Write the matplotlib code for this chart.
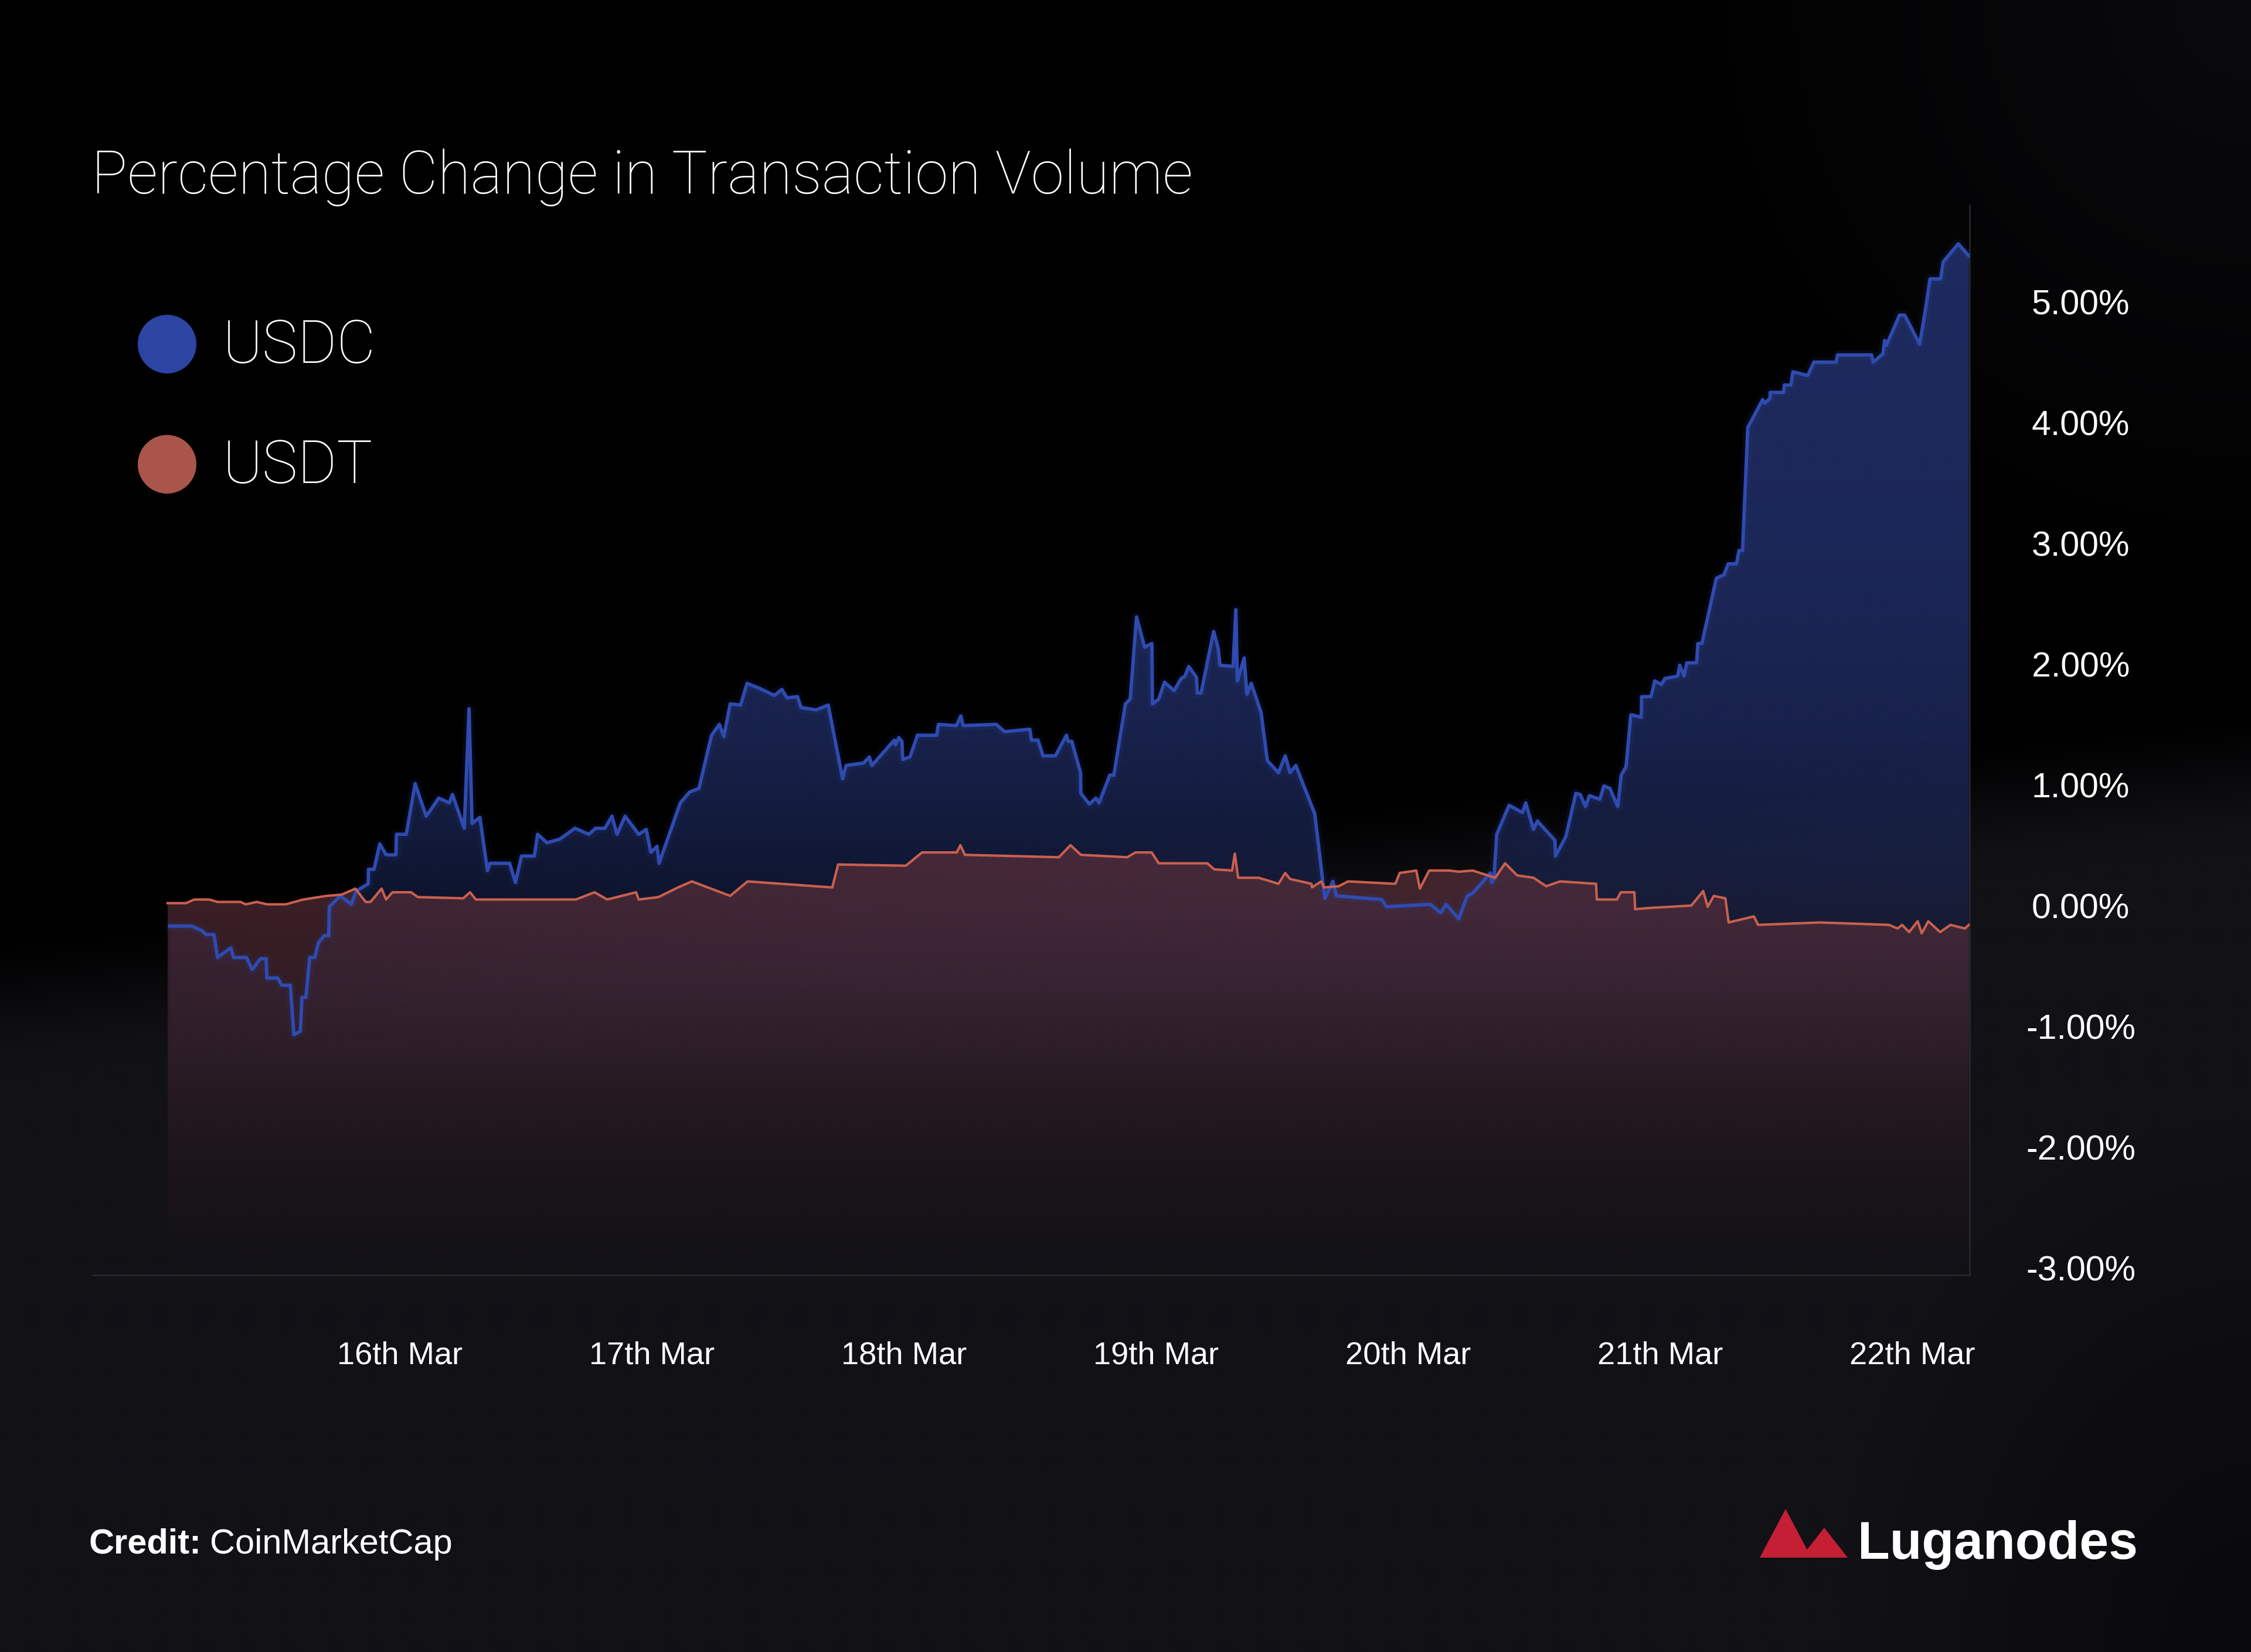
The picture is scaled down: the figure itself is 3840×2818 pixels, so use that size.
"""
Percentage change in transaction volume, USDC vs USDT (15th-22nd Mar).
Dark poster style chart with gradient area fills.
"""

import numpy as np
import matplotlib
matplotlib.use("Agg")
import matplotlib.pyplot as plt
from matplotlib import font_manager
from matplotlib.patches import Polygon, Ellipse
from matplotlib.colors import to_rgb

# ---- data: day of March (fractional) and % change ----
usdc_day = [15.088, 15.175, 15.217, 15.231, 15.263, 15.277, 15.330, 15.341, 15.392, 15.415,
            15.447, 15.470, 15.473, 15.516, 15.532, 15.566, 15.580, 15.606, 15.612, 15.628,
            15.643, 15.663, 15.677, 15.700, 15.718, 15.721, 15.764, 15.808, 15.827, 15.875,
            15.876, 15.898, 15.921, 15.946, 15.985, 15.987, 16.026, 16.061, 16.105, 16.155,
            16.197, 16.209, 16.256, 16.275, 16.287, 16.318, 16.348, 16.358, 16.436, 16.459,
            16.483, 16.534, 16.547, 16.584, 16.635, 16.695, 16.750, 16.777, 16.814, 16.842,
            16.862, 16.894, 16.948, 16.978, 16.996, 17.021, 17.029, 17.113, 17.150, 17.187,
            17.237, 17.268, 17.286, 17.311, 17.352, 17.378, 17.426, 17.486, 17.516, 17.536,
            17.578, 17.592, 17.651, 17.700, 17.757, 17.771, 17.840, 17.863, 17.873, 17.962,
            17.966, 17.980, 17.992, 17.996, 18.024, 18.054, 18.130, 18.137, 18.208, 18.226,
            18.235, 18.367, 18.399, 18.500, 18.506, 18.532, 18.552, 18.601, 18.645, 18.652,
            18.666, 18.701, 18.702, 18.736, 18.762, 18.774, 18.817, 18.833, 18.879, 18.898,
            18.923, 18.955, 18.984, 18.986, 19.011, 19.034, 19.072, 19.100, 19.115, 19.130,
            19.161, 19.164, 19.179, 19.229, 19.247, 19.254, 19.306, 19.317, 19.323, 19.350,
            19.361, 19.378, 19.417, 19.442, 19.486, 19.513, 19.532, 19.555, 19.630, 19.670,
            19.702, 19.716, 19.895, 19.915, 20.088, 20.130, 20.151, 20.201, 20.235, 20.256,
            20.327, 20.332, 20.341, 20.352, 20.401, 20.454, 20.467, 20.498, 20.513, 20.583,
            20.585, 20.626, 20.666, 20.683, 20.704, 20.720, 20.761, 20.777, 20.801, 20.832,
            20.846, 20.865, 20.884, 20.925, 20.927, 20.964, 20.979, 21.005, 21.019, 21.070,
            21.078, 21.095, 21.106, 21.145, 21.150, 21.166, 21.223, 21.254, 21.270, 21.303,
            21.313, 21.327, 21.348, 21.407, 21.415, 21.436, 21.437, 21.490, 21.493, 21.519,
            21.527, 21.586, 21.610, 21.698, 21.704, 21.839, 21.846, 21.884, 21.891, 21.898,
            21.950, 21.970, 22.030, 22.053, 22.071, 22.113, 22.123, 22.183, 22.225]
usdc_pct = [-0.17, -0.17, -0.21, -0.24, -0.24, -0.43, -0.35, -0.43, -0.43, -0.53,
            -0.44, -0.44, -0.60, -0.60, -0.66, -0.66, -1.07, -1.04, -0.76, -0.76,
            -0.43, -0.43, -0.31, -0.25, -0.25, -0.01, 0.08, 0.01, 0.12, 0.18,
            0.30, 0.30, 0.51, 0.42, 0.42, 0.59, 0.59, 1.01, 0.74, 0.89,
            0.85, 0.92, 0.64, 1.63, 0.68, 0.73, 0.29, 0.35, 0.35, 0.19,
            0.41, 0.41, 0.59, 0.52, 0.55, 0.64, 0.59, 0.64, 0.64, 0.74,
            0.59, 0.74, 0.59, 0.63, 0.44, 0.49, 0.35, 0.85, 0.94, 0.97,
            1.41, 1.50, 1.40, 1.67, 1.66, 1.84, 1.80, 1.74, 1.79, 1.72,
            1.73, 1.64, 1.62, 1.66, 1.05, 1.16, 1.18, 1.23, 1.16, 1.37,
            1.33, 1.39, 1.36, 1.21, 1.23, 1.41, 1.41, 1.50, 1.49, 1.57,
            1.49, 1.50, 1.44, 1.46, 1.37, 1.37, 1.24, 1.24, 1.41, 1.36,
            1.36, 1.10, 0.93, 0.84, 0.89, 0.85, 1.08, 1.08, 1.67, 1.71,
            2.39, 2.14, 2.17, 1.67, 1.71, 1.85, 1.78, 1.88, 1.90, 1.98,
            1.89, 1.76, 1.76, 2.27, 2.13, 1.99, 1.98, 2.45, 1.86, 2.05,
            1.75, 1.84, 1.60, 1.20, 1.10, 1.24, 1.10, 1.16, 0.76, 0.06,
            0.20, 0.08, 0.05, -0.01, 0.01, -0.06, 0.01, -0.11, 0.08, 0.10,
            0.27, 0.19, 0.22, 0.59, 0.83, 0.77, 0.85, 0.63, 0.70, 0.54,
            0.41, 0.57, 0.93, 0.92, 0.82, 0.91, 0.88, 0.99, 0.97, 0.82,
            1.08, 1.15, 1.58, 1.56, 1.73, 1.73, 1.86, 1.83, 1.88, 1.90,
            1.99, 1.90, 2.01, 2.01, 2.17, 2.17, 2.71, 2.74, 2.83, 2.83,
            2.94, 2.94, 3.96, 4.19, 4.16, 4.20, 4.25, 4.25, 4.31, 4.31,
            4.42, 4.39, 4.50, 4.50, 4.56, 4.56, 4.50, 4.57, 4.68, 4.64,
            4.89, 4.89, 4.65, 4.94, 5.19, 5.19, 5.33, 5.48, 5.38]

usdt_day = [15.079, 15.152, 15.185, 15.244, 15.277, 15.369, 15.389, 15.433, 15.474, 15.548,
            15.617, 15.709, 15.769, 15.824, 15.865, 15.884, 15.928, 15.946, 15.971, 16.045,
            16.072, 16.252, 16.279, 16.302, 16.699, 16.773, 16.823, 16.938, 16.948, 17.026,
            17.104, 17.159, 17.311, 17.380, 17.716, 17.739, 18.008, 18.072, 18.210, 18.224,
            18.242, 18.615, 18.661, 18.702, 18.886, 18.919, 18.983, 19.011, 19.204, 19.231,
            19.302, 19.313, 19.326, 19.407, 19.440, 19.486, 19.513, 19.532, 19.617, 19.619,
            19.656, 19.667, 19.725, 19.762, 19.950, 19.967, 20.033, 20.047, 20.084, 20.162,
            20.203, 20.256, 20.346, 20.385, 20.433, 20.498, 20.548, 20.603, 20.746, 20.749,
            20.829, 20.844, 20.898, 20.901, 20.958, 21.124, 21.171, 21.189, 21.213, 21.259,
            21.272, 21.372, 21.389, 21.633, 21.908, 21.942, 21.960, 21.988, 22.022, 22.038,
            22.064, 22.111, 22.152, 22.209, 22.225]
usdt_pct = [0.02, 0.02, 0.05, 0.05, 0.03, 0.03, 0.01, 0.03, 0.01, 0.01,
            0.05, 0.08, 0.09, 0.14, 0.03, 0.03, 0.14, 0.05, 0.11, 0.11,
            0.07, 0.06, 0.11, 0.05, 0.05, 0.11, 0.05, 0.11, 0.05, 0.07,
            0.15, 0.20, 0.08, 0.20, 0.15, 0.34, 0.33, 0.44, 0.44, 0.50,
            0.42, 0.40, 0.50, 0.42, 0.40, 0.44, 0.44, 0.35, 0.35, 0.30,
            0.29, 0.43, 0.23, 0.23, 0.21, 0.18, 0.27, 0.22, 0.18, 0.15,
            0.20, 0.15, 0.16, 0.20, 0.18, 0.27, 0.29, 0.14, 0.29, 0.29,
            0.28, 0.29, 0.23, 0.35, 0.25, 0.23, 0.16, 0.20, 0.18, 0.05,
            0.05, 0.11, 0.11, -0.03, -0.02, 0.00, 0.12, -0.01, 0.08, 0.06,
            -0.14, -0.09, -0.16, -0.14, -0.16, -0.19, -0.16, -0.22, -0.13, -0.23,
            -0.13, -0.22, -0.16, -0.19, -0.16]

tick_days = [16, 17, 18, 19, 20, 21, 22]
tick_labels = ["16th Mar", "17th Mar", "18th Mar", "19th Mar", "20th Mar", "21th Mar", "22th Mar"]
y_ticks = [-3, -2, -1, 0, 1, 2, 3, 4, 5]

# ---- style ----
W, H = 3840, 2818
DPI = 300
Y_MIN, Y_MAX = -3.06, 5.80
X_MIN, X_MAX = 14.784, 22.228

BLUE_LINE = "#2f4bb0"
RED_LINE = "#c9604e"
BLUE_FILL = "#1f2c62"
RED_FILL = "#5a2f3a"
AXIS_COL = "#2a2a30"

_avail = {f.name for f in font_manager.fontManager.ttflist}
if "Liberation Sans Narrow" in _avail:
    NARROW, NK = "Liberation Sans Narrow", 1.0
else:
    NARROW, NK = "Liberation Sans", 0.84
WIDE = "Liberation Sans" if "Liberation Sans" in _avail else "DejaVu Sans"
THIN = "Roboto" if "Roboto" in _avail else WIDE


def fx(px):
    return px / W


def fy(py):
    return 1 - py / H


def gradient_fill(ax, x, y, color, levels, alphas, zorder):
    verts = [(x[0], Y_MIN)] + list(zip(x, y)) + [(x[-1], Y_MIN)]
    clip = Polygon(verts, closed=True, facecolor="none", edgecolor="none")
    ax.add_patch(clip)
    yy = np.linspace(Y_MAX, Y_MIN, 500)
    img = np.zeros((500, 1, 4))
    img[..., :3] = to_rgb(color)
    img[:, 0, 3] = np.interp(yy, levels, alphas)
    im = ax.imshow(img, aspect="auto", extent=[x[0], x[-1], Y_MIN, Y_MAX],
                   origin="upper", interpolation="bilinear", zorder=zorder)
    im.set_clip_path(clip)


fig = plt.figure(figsize=(W / DPI, H / DPI), dpi=DPI, facecolor="black")

# background: black blob on top, dark charcoal below, darker corner bottom right
bg = fig.add_axes([0, 0, 1, 1], zorder=-10)
gx, gy = np.meshgrid(np.linspace(0, W, 384), np.linspace(0, H, 282))
edge = 1700 - 0.1 * gx
t = np.clip((gy - edge) / 260 + 0.5, 0, 1)
t = t * t * (3 - 2 * t)
corner = np.clip(1 - np.hypot(gx - W, gy) / 1100, 0, 1) * 0.6
t = np.maximum(t, corner)
dark = np.clip(1 - np.hypot((gx - W) / 700, (gy - H) / 900), 0, 1) * 0.45
t = t * (1 - dark)
base = np.array([17, 17, 22]) / 255
bg_img = t[..., None] * base
bg.imshow(bg_img, extent=[0, 1, 0, 1], aspect="auto", origin="upper", interpolation="bilinear")
bg.axis("off")

ax = fig.add_axes([fx(159), fy(2175), fx(3360) - fx(159), fy(350) - fy(2175)])
ax.set_facecolor("none")

gradient_fill(ax, usdc_day, usdc_pct, BLUE_FILL,
              [-1.6, -0.5, 0.5, 1.5, 3.0, 6.0], [0.0, 0.3, 0.58, 0.78, 0.9, 0.98], zorder=1)
gradient_fill(ax, usdt_day, usdt_pct, RED_FILL,
              [-3.06, -2.0, -1.0, 0.0, 0.6], [0.0, 0.18, 0.42, 0.66, 0.75], zorder=2)

ax.plot(usdc_day, usdc_pct, color=BLUE_LINE, lw=4.0, alpha=0.10, zorder=3)
ax.plot(usdc_day, usdc_pct, color=BLUE_LINE, lw=1.4, zorder=4)
ax.plot(usdt_day, usdt_pct, color=RED_LINE, lw=1.0, zorder=5)

ax.set_xlim(X_MIN, X_MAX)
ax.set_ylim(Y_MIN, Y_MAX)

for side in ["top", "left"]:
    ax.spines[side].set_visible(False)
for side in ["bottom", "right"]:
    ax.spines[side].set_color(AXIS_COL)
    ax.spines[side].set_linewidth(0.6)

ax.set_xticks(tick_days)
ax.set_xticklabels(tick_labels, fontfamily=NARROW, fontsize=15.5 * NK, color="white")
ax.yaxis.tick_right()
ax.set_yticks(y_ticks)
ax.set_yticklabels([f"{v:.2f}%" for v in y_ticks], fontfamily=WIDE, fontsize=14.2,
                   color="white", ha="center")
ax.tick_params(axis="x", length=0, pad=27)
ax.tick_params(axis="y", length=0, pad=45.5)

# title
fig.text(fx(156), fy(330), "Percentage Change in Transaction Volume", fontfamily=THIN,
         fontweight="light", fontsize=24.5, color="white", va="baseline", ha="left")

# legend
for cy, base_y, col, name in [(587, 619, "#2c45a3", "USDC"), (792, 824, "#a9554b", "USDT")]:
    fig.patches.append(Ellipse((fx(285), fy(cy)), 100 / W, 100 / H, transform=fig.transFigure,
                               facecolor=col, edgecolor="none"))
    fig.text(fx(380), fy(base_y), name, fontfamily=THIN, fontweight="light", fontsize=24.5,
             color="white", va="baseline", ha="left")

# credit
t1 = fig.text(fx(152), fy(2650), "Credit:", fontfamily=WIDE, fontweight="bold",
              fontsize=14.3, color="white", va="baseline")
fig.canvas.draw()
bb = t1.get_window_extent(renderer=fig.canvas.get_renderer())
fig.text(bb.x1 / W + fx(14), fy(2650), "CoinMarketCap", fontfamily=WIDE,
         fontsize=14.3, color="white", va="baseline")

# Luganodes logo
logo_red = "#c41f35"
fig.patches.append(Polygon([(fx(3002), fy(2657)), (fx(3046), fy(2574)), (fx(3090), fy(2657))],
                           closed=True, transform=fig.transFigure, facecolor=logo_red, edgecolor="none"))
fig.patches.append(Polygon([(fx(3072), fy(2657)), (fx(3112), fy(2606)), (fx(3152), fy(2657))],
                           closed=True, transform=fig.transFigure, facecolor=logo_red, edgecolor="none"))
fig.text(fx(3647), fy(2659), "Luganodes", fontfamily=WIDE, fontweight="bold",
         fontsize=21.5, color="white", va="baseline", ha="right")

fig.savefig("out.png", dpi=DPI, facecolor="black")
